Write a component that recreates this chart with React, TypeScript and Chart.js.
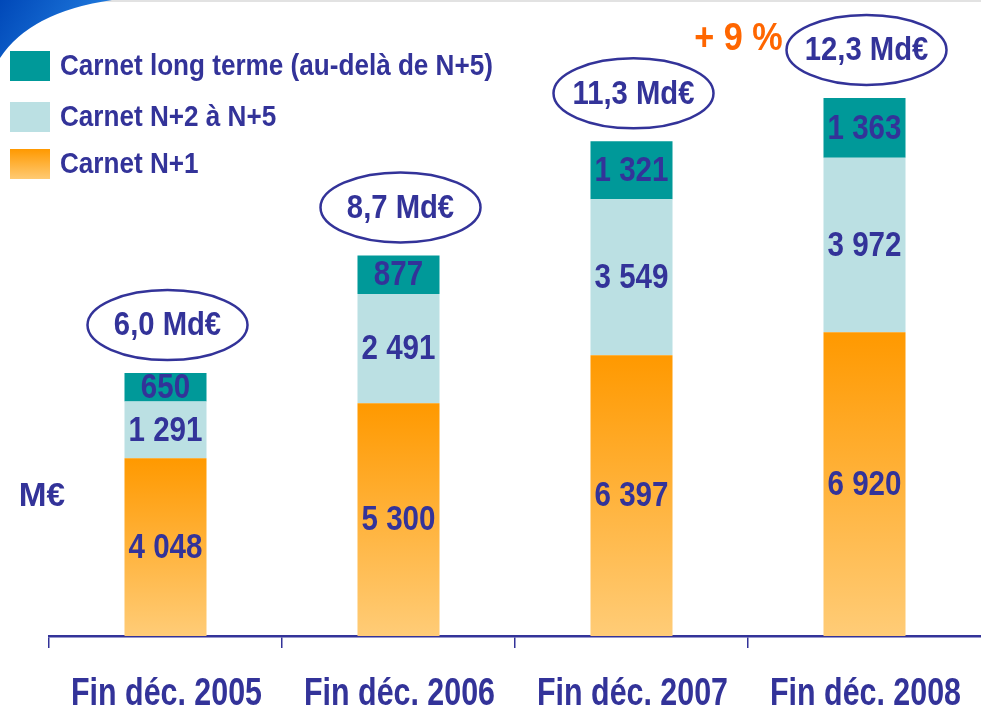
import { useEffect, useRef } from "react";
import { Chart, registerables } from "chart.js";

Chart.register(...registerables);

const categories = ["Fin déc. 2005", "Fin déc. 2006", "Fin déc. 2007", "Fin déc. 2008"];
const carnetN1 = [4048, 5300, 6397, 6920];
const carnetN2N5 = [1291, 2491, 3549, 3972];
const carnetLongTerme = [650, 877, 1321, 1363];
const totalLabels = ["6,0 Md€", "8,7 Md€", "11,3 Md€", "12,3 Md€"];
const seriesNames = ["Carnet N+1", "Carnet N+2 à N+5", "Carnet long terme (au-delà de N+5)"];
const growthLabel = "+ 9 %";
const unitLabel = "M€";

const NAVY = "#333399";
const TEAL = "#009999";
const LIGHT = "#BBE0E3";
const ORANGE_TOP = "#FF9900";
const ORANGE_BOTTOM = "#FFCC77";
const FONT = "'Liberation Sans', Arial, sans-serif";

const fmt = (v: number) => String(v).replace(/\B(?=(\d{3})+(?!\d))/g, " ");

function orangeGradient(ctx: CanvasRenderingContext2D, top: number, bottom: number) {
  const g = ctx.createLinearGradient(0, top, 0, bottom);
  g.addColorStop(0, ORANGE_TOP);
  g.addColorStop(1, ORANGE_BOTTOM);
  return g;
}

// draws condensed bold text (horizontal squeeze)
function drawText(
  ctx: CanvasRenderingContext2D,
  text: string,
  x: number,
  y: number,
  size: number,
  sx: number,
  color: string,
  align: CanvasTextAlign = "center",
  baseline: CanvasTextBaseline = "middle"
) {
  ctx.save();
  ctx.translate(x, y);
  ctx.scale(sx, 1);
  ctx.font = `bold ${size}px ${FONT}`;
  ctx.fillStyle = color;
  ctx.textAlign = align;
  ctx.textBaseline = baseline;
  ctx.fillText(text, 0, 0);
  ctx.restore();
}

const decorPlugin = {
  id: "decor",
  beforeDraw(chart: any) {
    const ctx = chart.ctx as CanvasRenderingContext2D;
    ctx.save();
    ctx.fillStyle = "#ffffff";
    ctx.fillRect(0, 0, chart.width, chart.height);
    ctx.fillStyle = "#e2e2e2";
    ctx.fillRect(0, 0, chart.width, 2);
    const g = ctx.createLinearGradient(0, 0, 80, 50);
    g.addColorStop(0, "#0048B8");
    g.addColorStop(1, "#1E78DC");
    ctx.beginPath();
    ctx.moveTo(0, 0);
    ctx.lineTo(112, 0);
    ctx.quadraticCurveTo(30, 12, 0, 58);
    ctx.closePath();
    ctx.fillStyle = g;
    ctx.fill();
    ctx.restore();
  },
  afterDatasetsDraw(chart: any) {
    const ctx = chart.ctx as CanvasRenderingContext2D;
    ctx.save();
    // segment values
    chart.data.datasets.forEach((ds: any, di: number) => {
      const meta = chart.getDatasetMeta(di);
      meta.data.forEach((bar: any, i: number) => {
        const cy = (bar.y + bar.base) / 2;
        drawText(ctx, fmt(ds.data[i]), bar.x, cy + 1, 35, 0.845, NAVY);
      });
    });
    // total ellipses
    const topMeta = chart.getDatasetMeta(chart.data.datasets.length - 1);
    topMeta.data.forEach((bar: any, i: number) => {
      const cx = bar.x + 2;
      const cy = bar.y - 48;
      ctx.beginPath();
      ctx.ellipse(cx, cy, 80, 35, 0, 0, Math.PI * 2);
      ctx.lineWidth = 2.5;
      ctx.strokeStyle = NAVY;
      ctx.stroke();
      drawText(ctx, totalLabels[i], cx, cy + 1, 34, 0.86, NAVY);
      if (i === topMeta.data.length - 1) {
        drawText(ctx, growthLabel, cx - 128, cy - 10, 38, 0.9, "#FF6600");
      }
    });
    // x category labels
    const xs = chart.scales.x;
    chart.data.labels.forEach((lab: string, i: number) => {
      drawText(ctx, lab, xs.getPixelForTick(i) + 1, 705, 38, 0.8, NAVY, "center", "alphabetic");
    });
    // unit label
    drawText(ctx, unitLabel, 42, 497, 34, 0.98, NAVY);
    // legend
    const items = [2, 1, 0];
    const boxY = [51, 102, 149];
    items.forEach((di, k) => {
      const y = boxY[k];
      const ds = chart.data.datasets[di];
      ctx.fillStyle = di === 0 ? orangeGradient(ctx, y, y + 31) : ds.backgroundColor;
      ctx.fillRect(10, y, 40, 30);
      drawText(ctx, ds.label, 60, y + 16, 29, 0.9, NAVY, "left", "middle");
    });
    ctx.restore();
  },
};

export default function App() {
  const ref = useRef<HTMLCanvasElement | null>(null);
  useEffect(() => {
    if (!ref.current) return;
    const chart = new Chart(ref.current, {
      type: "bar",
      data: {
        labels: categories,
        datasets: [
          {
            label: seriesNames[0],
            data: carnetN1,
            backgroundColor: (c: any) => {
              const ch = c.chart;
              const area = ch.chartArea;
              if (!area || c.dataIndex === undefined) return ORANGE_TOP;
              const y = ch.scales.y;
              const top = y.getPixelForValue(carnetN1[c.dataIndex]);
              const bottom = y.getPixelForValue(0);
              return orangeGradient(ch.ctx, top, bottom);
            },
            borderWidth: 0,
          },
          { label: seriesNames[1], data: carnetN2N5, backgroundColor: LIGHT, borderWidth: 0 },
          { label: seriesNames[2], data: carnetLongTerme, backgroundColor: TEAL, borderWidth: 0 },
        ],
      },
      options: {
        animation: false,
        responsive: true,
        maintainAspectRatio: false,
        layout: { padding: { left: 49, top: 20, right: 0, bottom: 0 } },
        datasets: { bar: { categoryPercentage: 1, barPercentage: 0.352 } },
        plugins: { legend: { display: false }, tooltip: { enabled: false } },
        scales: {
          x: {
            stacked: true,
            grid: {
              display: true,
              drawOnChartArea: false,
              drawTicks: true,
              tickLength: 12,
              color: (c: any) =>
                c.index === undefined || c.index >= categories.length ? "rgba(0,0,0,0)" : NAVY,
              lineWidth: 1.5,
              offset: true,
            },
            border: { display: true, color: NAVY, width: 2.5 },
            ticks: { display: false },
            afterFit: (s: any) => {
              s.height = 71;
            },
          },
          y: { stacked: true, display: false, min: 0, max: 14030 },
        },
      },
      plugins: [decorPlugin],
    } as any);
    return () => chart.destroy();
  }, []);
  return (
    <div style={{ position: "fixed", left: 0, top: 0, width: 981, height: 707, background: "#fff" }}>
      <canvas ref={ref} />
    </div>
  );
}
